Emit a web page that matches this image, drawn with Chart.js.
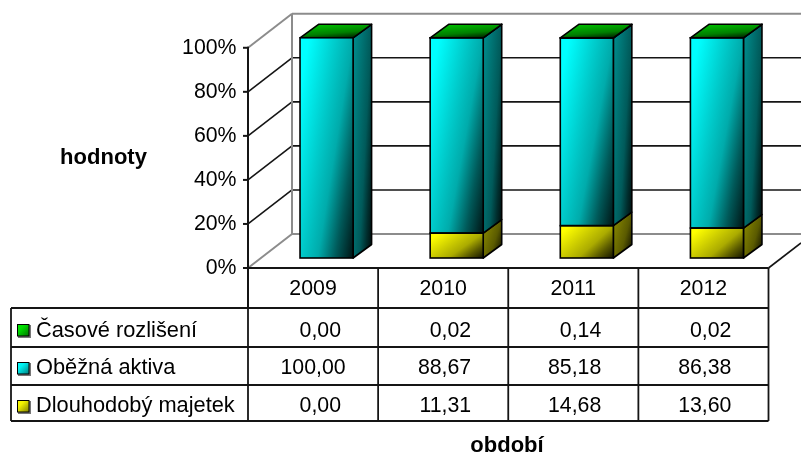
<!DOCTYPE html>
<html>
<head>
<meta charset="utf-8">
<style>
  html, body { margin: 0; padding: 0; background: #fff; }
  canvas { display: block; }
</style>
<script src="https://cdn.jsdelivr.net/npm/chart.js@4/dist/chart.umd.js"></script>
</head>
<body>
<canvas id="chart" width="801" height="454"></canvas>
<script>
const years = ['2009', '2010', '2011', '2012'];
const dlouhodobyMajetek = [0.00, 11.31, 14.68, 13.60];
const obeznaAktiva = [100.00, 88.67, 85.18, 86.38];
const casoveRozliseni = [0.00, 0.02, 0.14, 0.02];
const percentTicks = [0, 20, 40, 60, 80, 100];
const seriesNames = ['Dlouhodobý majetek', 'Oběžná aktiva', 'Časové rozlišení'];
const yTitle = 'hodnoty';
const xTitle = 'období';

const FONT = '"Liberation Sans", Arial, sans-serif';
const TEXT_SIZE = 21.3;
const INK = '#151515';
const WALL = '#8c8c8c';

// 3D projection offsets, relative to the plane the front faces of the bars sit on
const TO_FRONT = { x: -13.5, y: 10 };
const TO_BACK = { x: 30.5, y: -24 };
const BAR_DEPTH = { x: 18.5, y: -13.5 };

// Data table: row edges, text baselines and legend key tops, top row first
const TABLE_LEFT = 11;
const ROW_EDGES = [308, 347, 385, 421];
const ROW_BASELINES = [337, 374, 412];
const KEY_TOPS = [324, 362, 400];
const VALUE_SLOT = 56;

const palette = {
  yellow: { face: [255, 255, 0], side: [135, 135, 0] },
  cyan: { face: [0, 255, 255], side: [0, 135, 135] },
  green: { face: [0, 235, 0], side: [0, 190, 0] }
};
const seriesColors = [palette.yellow, palette.cyan, palette.green];

const scaled = (c, k) => `rgb(${Math.round(c[0] * k)},${Math.round(c[1] * k)},${Math.round(c[2] * k)})`;

// Brightness along the diagonal shading of a face
const SHADE_STOPS = [[0, 1], [0.1, 1], [0.4, 0.8], [0.6, 0.67], [0.8, 0.35], [1, 0.08]];
const KEY_STOPS = [[0, 1], [0.35, 0.95], [1, 0.5]];

// Diagonal shading over a box: the colour falls away towards the lower right
function shade(ctx, x, y, w, h, color, across = 0.6, stops = SHADE_STOPS) {
  const gx = across / w, gy = (1 - across) / h;
  const len2 = gx * gx + gy * gy;
  const g = ctx.createLinearGradient(x, y, x + gx / len2, y + gy / len2);
  stops.forEach(([t, k]) => g.addColorStop(t, scaled(color, k)));
  return g;
}

const formatValue = v => v.toFixed(2).replace('.', ',');

const line = (ctx, x0, y0, x1, y1) => {
  ctx.beginPath();
  ctx.moveTo(x0, y0);
  ctx.lineTo(x1, y1);
  ctx.stroke();
};

const shadeBars = {
  id: 'shadeBars',
  afterDatasetsUpdate(chart) {
    chart.data.datasets.forEach((ds, i) => {
      chart.getDatasetMeta(i).data.forEach(bar => {
        const h = Math.max(bar.base - bar.y, 1);
        bar.options.backgroundColor =
          shade(chart.ctx, bar.x - bar.width / 2, bar.y, bar.width, h, seriesColors[i].face);
      });
    });
  }
};

const box3d = {
  id: 'box3d',
  beforeDatasetsDraw(chart) {
    const { ctx, scales: { x, y } } = chart;
    const front = v => y.getPixelForValue(v) + TO_FRONT.y;
    const back = v => y.getPixelForValue(v) + TO_BACK.y;
    const fx = x.left + TO_FRONT.x, bx = x.left + TO_BACK.x;
    const rx = x.right + TO_FRONT.x;
    ctx.save();
    ctx.lineCap = 'butt';

    // Back wall, side wall and gridlines
    percentTicks.forEach(v => {
      const edge = v === 0 || v === 100;
      ctx.strokeStyle = edge ? WALL : INK;
      ctx.lineWidth = edge ? 2 : 1.6;
      line(ctx, bx, back(v), chart.width, back(v));
      line(ctx, fx, front(v), bx, back(v));
    });
    ctx.strokeStyle = WALL;
    ctx.lineWidth = 2;
    line(ctx, bx, back(100), bx, back(0));

    // Floor edge on the right
    ctx.strokeStyle = INK;
    ctx.lineWidth = 1.6;
    const floorRun = chart.width - rx;
    line(ctx, rx, front(0), chart.width, front(0) + floorRun * (TO_BACK.y - TO_FRONT.y) / (TO_BACK.x - TO_FRONT.x));

    // Value axis and its tick marks
    ctx.lineWidth = 2;
    line(ctx, fx, front(100) - 1, fx, ROW_EDGES[0]);
    percentTicks.forEach(v => line(ctx, fx - 5, front(v), fx, front(v)));

    // Side faces of every bar, top face of every stack
    const depth = BAR_DEPTH;
    ctx.lineJoin = 'round';
    ctx.strokeStyle = '#000';
    ctx.lineWidth = 1.6;
    chart.data.datasets.forEach((ds, i) => {
      chart.getDatasetMeta(i).data.forEach((bar, k) => {
        if (!ds.data[k]) return;
        const right = bar.x + bar.width / 2, h = bar.base - bar.y;
        ctx.beginPath();
        ctx.moveTo(right, bar.y);
        ctx.lineTo(right + depth.x, bar.y + depth.y);
        ctx.lineTo(right + depth.x, bar.base + depth.y);
        ctx.lineTo(right, bar.base);
        ctx.closePath();
        ctx.fillStyle = shade(ctx, right, bar.y + depth.y, depth.x, Math.max(h, 1) - depth.y, seriesColors[i].side);
        ctx.fill();
        ctx.stroke();
      });
    });
    const topIndex = chart.data.datasets.length - 1;
    chart.getDatasetMeta(topIndex).data.forEach(bar => {
      const l = bar.x - bar.width / 2, r = bar.x + bar.width / 2;
      ctx.beginPath();
      ctx.moveTo(l, bar.y);
      ctx.lineTo(l + depth.x, bar.y + depth.y);
      ctx.lineTo(r + depth.x, bar.y + depth.y);
      ctx.lineTo(r, bar.y);
      ctx.closePath();
      ctx.fillStyle = shade(ctx, l, bar.y + depth.y, bar.width + depth.x, -depth.y, seriesColors[topIndex].side, 0.3);
      ctx.fill();
      ctx.stroke();
    });
    ctx.restore();
  },
  // One outline per segment, so stacked segments share a single dividing line
  afterDatasetsDraw(chart) {
    const { ctx } = chart;
    ctx.save();
    ctx.strokeStyle = '#000';
    ctx.lineWidth = 1.6;
    chart.data.datasets.forEach((ds, i) => {
      chart.getDatasetMeta(i).data.forEach((bar, k) => {
        if (!ds.data[k]) return;
        ctx.strokeRect(bar.x - bar.width / 2, bar.y, bar.width, bar.base - bar.y);
      });
    });
    ctx.restore();
  }
};

const dataTable = {
  id: 'dataTable',
  afterDraw(chart) {
    const { ctx, scales: { x, y } } = chart;
    const step = x.width / years.length;
    const cols = years.map((_, i) => x.left + TO_FRONT.x + i * step);
    cols.push(x.right + TO_FRONT.x);
    const headTop = y.getPixelForValue(0) + TO_FRONT.y;

    ctx.save();
    ctx.strokeStyle = INK;
    ctx.lineWidth = 1.8;
    line(ctx, cols[0], headTop, cols[4], headTop);
    ROW_EDGES.forEach(rowY => line(ctx, TABLE_LEFT, rowY, cols[4], rowY));
    cols.forEach(cx => line(ctx, cx, headTop, cx, ROW_EDGES[3]));
    line(ctx, TABLE_LEFT, ROW_EDGES[0], TABLE_LEFT, ROW_EDGES[3]);

    ctx.textBaseline = 'alphabetic';
    chart.data.datasets.slice().reverse().forEach((ds, r) => {
      const colorIndex = chart.data.datasets.length - 1 - r;
      const keyTop = KEY_TOPS[r], baseline = ROW_BASELINES[r];

      // Legend key
      ctx.fillStyle = '#777';
      ctx.fillRect(18, keyTop + 1, 13, 13);
      ctx.fillStyle = shade(ctx, 17, keyTop, 12, 12, seriesColors[colorIndex].face, 0.5, KEY_STOPS);
      ctx.fillRect(17, keyTop, 12, 12);
      ctx.strokeStyle = '#000';
      ctx.lineWidth = 1;
      ctx.strokeRect(17.5, keyTop + 0.5, 11.5, 11.5);

      ctx.fillStyle = '#000';
      ctx.textAlign = 'left';
      ctx.font = `21.8px ${FONT}`;
      ctx.fillText(ds.label, 36, baseline);

      // Values keep a common right edge unless they outgrow the slot, then they centre
      ctx.font = `${TEXT_SIZE}px ${FONT}`;
      ctx.textAlign = 'center';
      ds.data.forEach((v, c) => {
        const text = formatValue(v);
        const nudge = Math.max(0, (VALUE_SLOT - ctx.measureText(text).width) / 2);
        ctx.fillText(text, (cols[c] + cols[c + 1]) / 2 + nudge, baseline);
      });
    });

    // Axis titles
    ctx.font = `bold 22px ${FONT}`;
    ctx.textAlign = 'center';
    ctx.fillText(yTitle, 103.5, 164);
    ctx.fillText(xTitle, 507, 452);
    ctx.restore();
  }
};

new Chart(document.getElementById('chart'), {
  type: 'bar',
  data: {
    labels: years,
    datasets: [dlouhodobyMajetek, obeznaAktiva, casoveRozliseni].map((values, i) => ({
      label: seriesNames[i],
      data: values,
      backgroundColor: () => '#000',
      borderWidth: 0,
      barPercentage: 53 / 130,
      categoryPercentage: 1
    }))
  },
  options: {
    responsive: false,
    animation: false,
    layout: { padding: { top: 35, right: 19, left: 0, bottom: 0 } },
    plugins: { legend: { display: false }, tooltip: { enabled: false } },
    scales: {
      x: {
        stacked: true,
        grid: { display: false, drawTicks: false },
        border: { display: false },
        afterFit(scale) { scale.height = 196; },
        ticks: {
          color: '#000',
          font: { family: FONT, size: TEXT_SIZE },
          padding: 18,
          labelOffset: TO_FRONT.x,
          maxRotation: 0,
          autoSkip: false
        }
      },
      y: {
        stacked: true,
        min: 0,
        max: 100,
        grid: { display: false, drawTicks: false },
        border: { display: false },
        afterFit(scale) { scale.width = 261.5; },
        afterBuildTicks(scale) { scale.ticks = percentTicks.map(value => ({ value })); },
        ticks: {
          color: '#000',
          font: { family: FONT, size: TEXT_SIZE },
          padding: 25,
          labelOffset: TO_FRONT.y,
          callback: v => v + '%'
        }
      }
    }
  },
  plugins: [shadeBars, box3d, dataTable]
});
</script>
</body>
</html>
